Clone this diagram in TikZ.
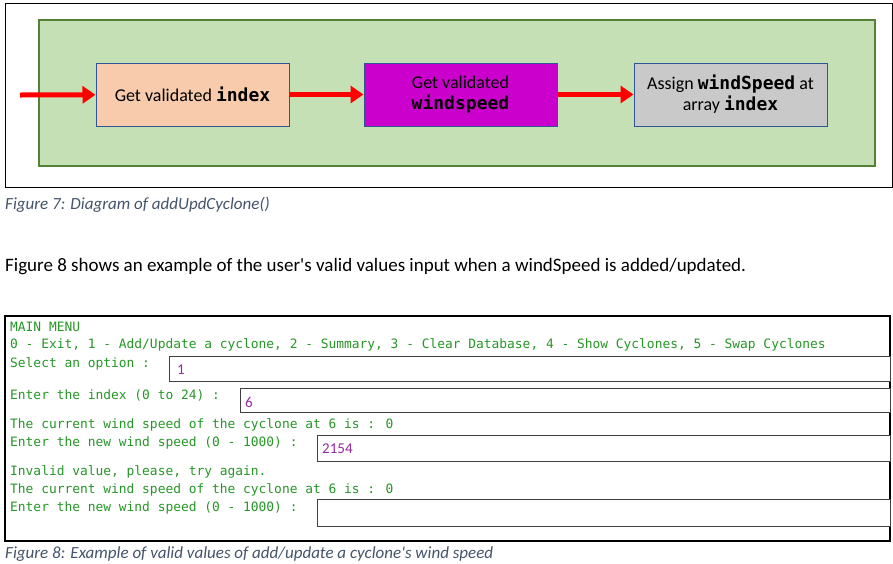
\documentclass[tikz,border=0pt]{standalone}
\usepackage{fontspec}
\setmainfont{Carlito}
\newfontfamily\consfont{DejaVu Sans Mono}
\usetikzlibrary{arrows.meta,positioning}

\definecolor{panelgreen}{RGB}{197,224,180}
\definecolor{paneledge}{RGB}{84,130,53}
\definecolor{boxedge}{RGB}{47,85,151}
\definecolor{peach}{RGB}{248,203,173}
\definecolor{magent}{RGB}{204,0,204}
\definecolor{lightgrey}{RGB}{201,201,201}
\definecolor{captblue}{RGB}{68,84,106}
\definecolor{consgreen}{RGB}{38,150,38}
\definecolor{valpurple}{RGB}{150,40,160}

\tikzset{x=1pt, y=-1pt,
        stepbox/.style={ % Sets the properties for each process box
            draw=boxedge,
            line width=1pt,
            minimum width=193,
            minimum height=63,
            align=center,
            font=\fontsize{18}{21}\selectfont},
        flow/.style={ % Thick red arrows between the boxes
            draw=red,
            line width=5pt,
            -{Triangle[length=13pt,width=17pt]}},
        caption/.style={anchor=west, inner sep=0pt,
            text=captblue, font=\fontsize{17}{20}\selectfont\itshape},
        cons/.style={anchor=west, inner sep=0pt, % Console output lines
            text=consgreen, font=\fontsize{12.9}{15}\consfont},
        inbox/.style={ % Input fields of the console
            draw=black!75, line width=1.3pt, fill=white,
            anchor=north west, inner sep=0pt},
        val/.style={anchor=west, inner sep=0pt,
            text=valpurple, font=\fontsize{15}{17}\selectfont}
        }

\newcommand{\code}[1]{{\consfont\bfseries #1}}

\begin{document}
\begin{tikzpicture}
    \useasboundingbox (0,0) rectangle (893,563);

    % Figure 7
    \draw[black, line width=1pt] (5,3) rectangle (892,187);
    \draw[fill=panelgreen, draw=paneledge, line width=1.5pt] (39,20) rectangle (875,166);

    \node[stepbox, fill=peach]      (idx)    at (192.5,94.5) {Get validated \code{index}};
    \node[stepbox, fill=magent]     (wind)   at (460.5,94.5) {Get validated\\\code{windspeed}};
    \node[stepbox, fill=lightgrey]  (assign) at (730.5,94.5) {Assign \code{windSpeed} at\\array \code{index}};
    \coordinate (start) at (20,95);

    \draw[flow] (start) -- (idx);
    \draw[flow] (idx) -- (wind);
    \draw[flow] (wind) -- (assign);

    \node[caption] (cap7) at (5,205) {Figure 7: Diagram of addUpdCyclone()};
    \node[anchor=west, inner sep=0pt, font=\fontsize{19}{22}\selectfont] (body) at (5,267)
        {Figure 8 shows an example of the user\textquotesingle s valid values input when a windSpeed is added/updated.};

    % Figure 8
    \draw[black, line width=1.5pt] (5,316) rectangle (890,541);

    \node[inbox, minimum width=721, minimum height=25] (opt)  at (169,356) {};
    \node[inbox, minimum width=650, minimum height=24] (ind)  at (240,388) {};
    \node[inbox, minimum width=573, minimum height=26] (ws1)  at (317,435) {};
    \node[inbox, minimum width=573, minimum height=27] (ws2)  at (317,499) {};

    \node[val] (v1) at (177,370) {1};
    \node[val] (v2) at (245,402) {6};
    \node[val] (v3) at (322,449) {2154};

    \node[cons] (l1) at (10,327) {MAIN MENU};
    \node[cons] (l2) at (10,345) {0 - Exit, 1 - Add/Update a cyclone, 2 - Summary, 3 - Clear Database, 4 - Show Cyclones, 5 - Swap Cyclones};
    \node[cons] (l3) at (10,364) {Select an option :};
    \node[cons] (l4) at (10,395) {Enter the index (0 to 24) :};
    \node[cons] (l5) at (10,425) {The current wind speed of the cyclone at 6 is : 0};
    \node[cons] (l6) at (10,443) {Enter the new wind speed (0 - 1000) :};
    \node[cons] (l7) at (10,472) {Invalid value, please, try again.};
    \node[cons] (l8) at (10,490) {The current wind speed of the cyclone at 6 is : 0};
    \node[cons] (l9) at (10,508) {Enter the new wind speed (0 - 1000) :};

    \node[caption] (cap8) at (5,554) {Figure 8: Example of valid values of add/update a cyclone\textquotesingle s wind speed};
\end{tikzpicture}
\end{document}
